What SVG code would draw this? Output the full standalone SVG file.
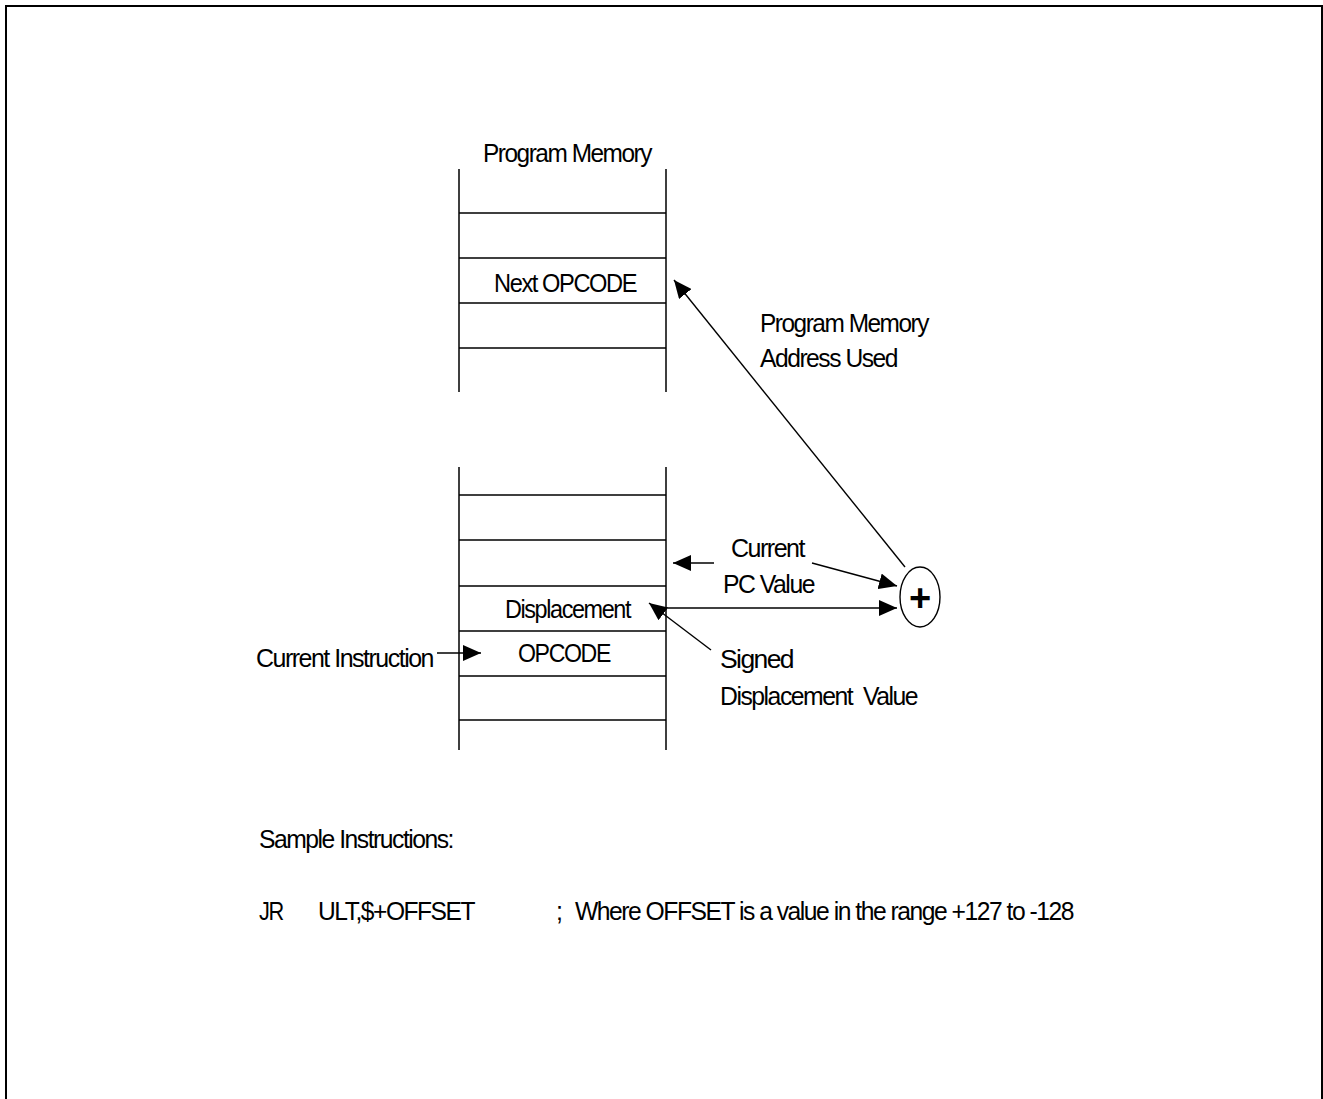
<svg xmlns="http://www.w3.org/2000/svg" width="1323" height="1099" viewBox="0 0 1323 1099">
<style>
.t{font-family:"Liberation Sans",Arial,sans-serif;font-size:25px;fill:#000;letter-spacing:-1.5px}
.ln{stroke:#000;stroke-width:1.5;fill:none}
.cn{stroke:#000;stroke-width:1.4;fill:none}
</style>
<defs>
<marker id="ah" viewBox="0 0 18 16" refX="18" refY="8" markerWidth="18" markerHeight="16" markerUnits="userSpaceOnUse" orient="auto">
<path d="M0,0 L18,8 L0,16 Z" fill="#000"/>
</marker>
</defs>
<rect x="0" y="0" width="1323" height="1099" fill="#fff"/>
<path d="M6,1099 V6 H1322 V1099" stroke="#000" stroke-width="2" fill="none"/>

<g id="program-memory-top">
<text class="t" x="483" y="162" textLength="168" lengthAdjust="spacingAndGlyphs">Program Memory</text>
<path class="ln" d="M459,169 V392 M666,169 V392 M459,213 H666 M459,258 H666 M459,303 H666 M459,348 H666"/>
</g>
<g id="next-opcode">
<text class="t" x="494" y="292" textLength="142" lengthAdjust="spacingAndGlyphs">Next OPCODE</text>
</g>

<g id="program-memory-bottom">
<path class="ln" d="M459,467 V750 M666,467 V750 M459,495 H666 M459,540 H666 M459,586 H666 M459,631 H666 M459,676 H666 M459,720 H666"/>
</g>
<g id="displacement">
<text class="t" x="505" y="618" textLength="125" lengthAdjust="spacingAndGlyphs">Displacement</text>
</g>
<g id="opcode">
<text class="t" x="518" y="662" textLength="92" lengthAdjust="spacingAndGlyphs">OPCODE</text>
</g>

<g id="adder">
<ellipse cx="920" cy="597" rx="20" ry="30" fill="#fff" stroke="#000" stroke-width="1.4"/>
<text x="920" y="611" text-anchor="middle" style="font-family:'Liberation Sans',Arial,sans-serif;font-size:38px;font-weight:bold">+</text>
</g>

<g id="labels">
<text class="t" x="760" y="332" textLength="168" lengthAdjust="spacingAndGlyphs">Program Memory</text>
<text class="t" x="760" y="367" textLength="137" lengthAdjust="spacingAndGlyphs">Address Used</text>
<text class="t" x="731" y="557" textLength="73" lengthAdjust="spacingAndGlyphs">Current</text>
<text class="t" x="723" y="593" textLength="91" lengthAdjust="spacingAndGlyphs">PC Value</text>
<text class="t" x="720" y="668" textLength="73" lengthAdjust="spacingAndGlyphs">Signed</text>
<text class="t" x="720" y="705" textLength="197" lengthAdjust="spacingAndGlyphs" xml:space="preserve">Displacement  Value</text>
<text class="t" x="256" y="667" textLength="177" lengthAdjust="spacingAndGlyphs">Current Instruction</text>
<text class="t" x="259" y="848" textLength="194" lengthAdjust="spacingAndGlyphs">Sample Instructions:</text>
<text class="t" x="259" y="920" textLength="24" lengthAdjust="spacingAndGlyphs">JR</text>
<text class="t" x="318" y="920" textLength="156" lengthAdjust="spacingAndGlyphs">ULT,$+OFFSET</text>
<text class="t" x="556" y="920">;</text>
<text class="t" x="575" y="920" textLength="498" lengthAdjust="spacingAndGlyphs">Where OFFSET is a value in the range +127 to -128</text>
</g>

<g id="connectors">
<line class="cn" x1="905" y1="567" x2="674" y2="280" marker-end="url(#ah)"/>
<line class="cn" x1="714" y1="563" x2="673" y2="563" marker-end="url(#ah)"/>
<line class="cn" x1="812" y1="563" x2="897" y2="586" marker-end="url(#ah)"/>
<line class="cn" x1="666" y1="608" x2="897" y2="608" marker-end="url(#ah)"/>
<line class="cn" x1="711" y1="650" x2="649" y2="603" marker-end="url(#ah)"/>
<line class="cn" x1="437" y1="653" x2="481" y2="653" marker-end="url(#ah)"/>
</g>
</svg>
